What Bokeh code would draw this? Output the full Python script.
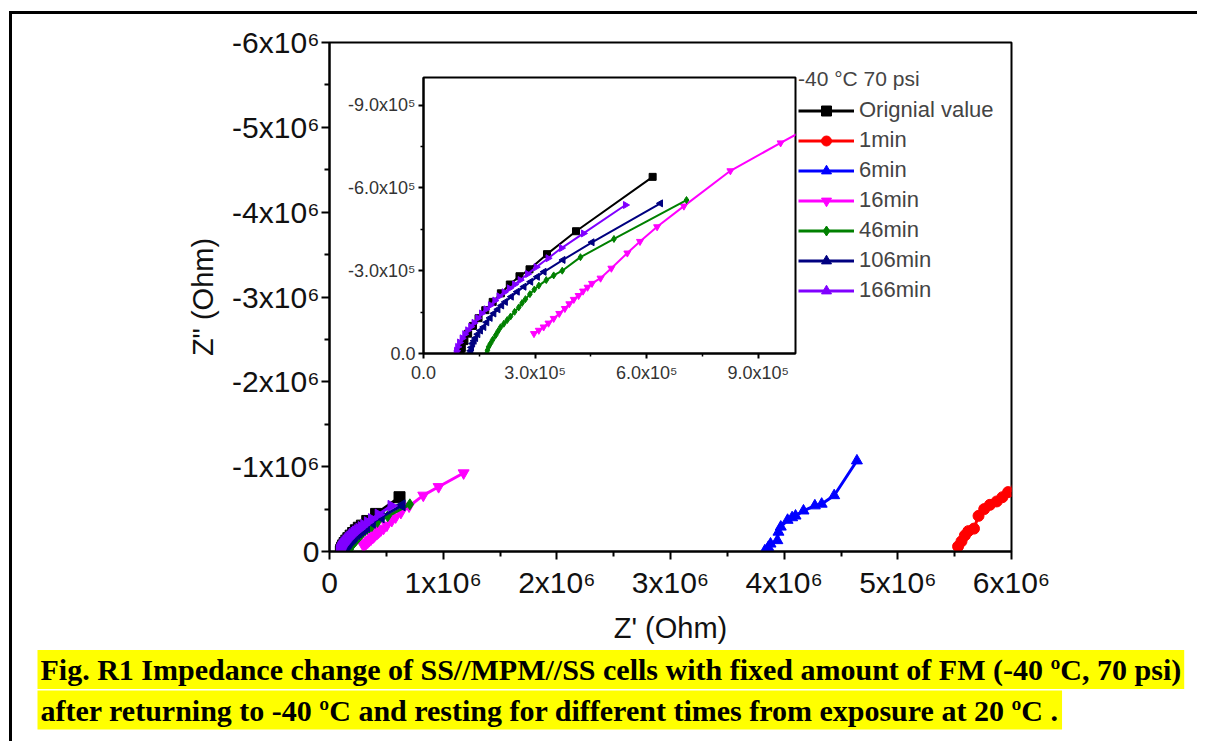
import numpy as np
from bokeh.plotting import figure
from bokeh.models import Range1d, FixedTicker, Title
from bokeh.embed import file_html
from bokeh.resources import INLINE

SCALE = 1e5  # all values below are in units of 1e5 Ohm; y values are -Z''

series_names = ["Orignial value", "1min", "6min", "16min", "46min", "106min", "166min"]
series_colors = ["#000000", "#FF0000", "#0000FF", "#FF00FF", "#008000", "#000080", "#8000FF"]
series_markers = ["square", "circle", "triangle", "inverted_triangle", "diamond", "triangle", "triangle"]
series_angles = [0, 0, 0, 0, 0, np.pi / 2, -np.pi / 2]

orig_x = [1.00, 1.03, 1.10, 1.20, 1.33, 1.48, 1.66, 1.86, 2.08, 2.32, 2.58, 2.85, 3.32, 4.10, 6.16]
orig_y = [0.00, 0.20, 0.45, 0.72, 1.00, 1.28, 1.57, 1.87, 2.18, 2.50, 2.80, 3.05, 3.60, 4.43, 6.40]

m1_x = [55.3, 55.6, 55.9, 56.2, 56.7, 57.1, 57.6, 58.1, 58.7, 59.2, 59.7, 60.5]
m1_y = [0.6, 1.2, 1.9, 2.4, 2.7, 4.2, 5.0, 5.5, 5.9, 6.4, 7.0, 7.6]

m6_x = [38.3, 38.6, 38.8, 39.4, 39.5, 39.7, 40.3, 40.7, 41.0, 41.7, 42.7, 43.3, 44.4, 46.4]
m6_y = [0.1, 0.5, 0.9, 1.3, 2.3, 2.9, 3.7, 4.0, 4.2, 4.8, 5.4, 5.6, 6.6, 10.7]

m16_x = [2.97, 3.10, 3.23, 3.36, 3.50, 3.65, 3.80, 3.92, 4.04, 4.17, 4.29, 4.41, 4.53, 4.76,
         5.05, 5.48, 5.82, 6.28, 7.00, 8.25, 9.60, 11.80]
m16_y = [0.72, 0.84, 0.96, 1.10, 1.27, 1.45, 1.63, 1.80, 1.96, 2.10, 2.26, 2.40, 2.54, 2.73,
         3.09, 3.64, 4.06, 4.59, 5.34, 6.62, 7.63, 9.25]

m46_x = [1.70, 1.72, 1.75, 1.80, 1.86, 1.94, 2.00, 2.07, 2.16, 2.25, 2.34, 2.45, 2.56, 2.65,
         2.74, 2.86, 2.98, 3.10, 3.30, 3.50, 3.73, 4.22, 5.12, 7.07]
m46_y = [0.00, 0.12, 0.24, 0.36, 0.50, 0.66, 0.80, 0.95, 1.08, 1.21, 1.34, 1.51, 1.67, 1.83,
         1.97, 2.15, 2.32, 2.46, 2.66, 2.83, 3.00, 3.49, 4.15, 5.56]

m106_x = [1.26, 1.27, 1.29, 1.32, 1.36, 1.40, 1.46, 1.53, 1.62, 1.70, 1.79, 1.89, 2.00, 2.10,
          2.20, 2.36, 2.52, 2.70, 2.88, 3.06, 3.24, 3.75, 4.53, 6.37]
m106_y = [0.00, 0.10, 0.22, 0.36, 0.46, 0.56, 0.70, 0.83, 0.96, 1.13, 1.29, 1.45, 1.60, 1.74,
          1.87, 2.06, 2.24, 2.42, 2.60, 2.78, 2.96, 3.39, 4.03, 5.44]

m166_x = [0.88, 0.89, 0.92, 0.97, 1.04, 1.11, 1.19, 1.27, 1.36, 1.46, 1.56, 1.68, 1.80, 1.92,
          2.03, 2.17, 2.31, 2.45, 2.60, 2.80, 3.03, 3.35, 3.71, 4.30, 5.43]
m166_y = [0.00, 0.10, 0.24, 0.40, 0.55, 0.70, 0.84, 0.97, 1.11, 1.28, 1.45, 1.60, 1.75, 1.92,
          2.07, 2.22, 2.36, 2.50, 2.66, 2.88, 3.13, 3.45, 3.82, 4.35, 5.38]

series_x = [orig_x, m1_x, m6_x, m16_x, m46_x, m106_x, m166_x]
series_y = [orig_y, m1_y, m6_y, m16_y, m46_y, m106_y, m166_y]

main_x_ticks = [0, 1e6, 2e6, 3e6, 4e6, 5e6, 6e6]
main_x_labels = ["0", "1x10⁶", "2x10⁶", "3x10⁶", "4x10⁶", "5x10⁶", "6x10⁶"]
main_y_ticks = [0, -1e6, -2e6, -3e6, -4e6, -5e6, -6e6]
main_y_labels = ["0", "-1x10⁶", "-2x10⁶", "-3x10⁶", "-4x10⁶", "-5x10⁶", "-6x10⁶"]
inset_x_ticks = [0, 3e5, 6e5, 9e5]
inset_x_labels = ["0.0", "3.0x10⁵", "6.0x10⁵", "9.0x10⁵"]
inset_y_ticks = [0, -3e5, -6e5, -9e5]
inset_y_labels = ["0.0", "-3.0x10⁵", "-6.0x10⁵", "-9.0x10⁵"]

legend_title = "-40 °C 70 psi"
caption_1 = "Fig. R1 Impedance change of SS//MPM//SS cells with fixed amount of FM (-40 ºC, 70 psi)"
caption_2 = "after returning to -40 ºC and resting for different times from exposure at 20 ºC ."

FONT = "Liberation Sans"

# ---------------- main figure ----------------
p = figure(output_backend="svg", toolbar_location=None,
           x_range=Range1d(0, 6e6), y_range=Range1d(0, -6e6),
           min_border_left=317, min_border_right=186, min_border_top=28, min_border_bottom=190,
           frame_width=682, frame_height=509)
p.styles = {"border-top": "3px solid black", "border-left": "3px solid black",
            "margin-left": "9px", "margin-top": "11px"}
p.grid.visible = False
p.outline_line_color = "black"
p.outline_line_width = 2
p.background_fill_color = "white"

for ax, ticks, labels, mticks in [
    (p.xaxis[0], main_x_ticks, main_x_labels, [0.5e6 + i * 1e6 for i in range(6)]),
    (p.yaxis[0], main_y_ticks, main_y_labels, [-0.5e6 - i * 1e6 for i in range(6)]),
]:
    ax.ticker = FixedTicker(ticks=ticks, minor_ticks=mticks)
    ax.major_label_overrides = {t: l for t, l in zip(ticks, labels)}
    ax.axis_line_width = 2
    ax.major_tick_line_width = 2
    ax.minor_tick_line_width = 2
    ax.major_tick_out = 8
    ax.major_tick_in = 0
    ax.minor_tick_out = 5
    ax.minor_tick_in = 0
    ax.major_label_text_font = FONT
    ax.major_label_text_font_size = "30px"
    ax.major_label_text_color = "#111111"
    ax.axis_label_text_font = FONT
    ax.axis_label_text_font_size = "29px"
    ax.axis_label_text_font_style = "normal"
    ax.axis_label_text_color = "#111111"

p.xaxis.axis_label = "Z' (Ohm)"
p.yaxis.axis_label = 'Z" (Ohm)'
p.xaxis.major_label_standoff = 6
p.yaxis.major_label_standoff = 2
p.xaxis.axis_label_standoff = 10
p.yaxis.axis_label_standoff = 10

for name, col, mk, ang, xs, ys in zip(series_names, series_colors, series_markers, series_angles,
                                       series_x, series_y):
    xv = np.array(xs) * SCALE
    yv = -np.array(ys) * SCALE
    p.line(xv, yv, line_color=col, line_width=3, legend_label=name)
    p.scatter(xv, yv, marker=mk, angle=ang, size=11, fill_color=col, line_color=col,
              legend_label=name)

lg = p.legend[0]
lg.title = legend_title
lg.title_text_font = FONT
lg.title_text_font_size = "21px"
lg.title_text_font_style = "normal"
lg.title_standoff = 6
lg.label_text_font = FONT
lg.label_text_font_size = "22px"
lg.location = (469, 248)
lg.margin = 0
lg.padding = 2
lg.spacing = 4
lg.glyph_width = 56
lg.glyph_height = 25
lg.label_height = 25
lg.label_standoff = 5
lg.border_line_color = None
lg.background_fill_alpha = 0

for txt, so in [(caption_1, 3), (caption_2, -4)]:
    p.add_layout(Title(text=txt, align="left", offset=-292,
                       text_font="Liberation Serif", text_font_style="bold",
                       text_font_size="30px", text_color="black",
                       background_fill_color="yellow", standoff=so, padding=3), "below")

# ---------------- inset figure ----------------
ins = figure(output_backend="svg", toolbar_location=None,
             x_range=Range1d(0, 1e6), y_range=Range1d(0, -1e6),
             frame_width=372, frame_height=276,
             min_border_left=90, min_border_right=4, min_border_top=10, min_border_bottom=40)
ins.grid.visible = False
ins.outline_line_color = "black"
ins.outline_line_width = 2
ins.border_fill_alpha = 0
ins.background_fill_color = "white"

for ax, ticks, labels, mticks in [
    (ins.xaxis[0], inset_x_ticks, inset_x_labels, [1.5e5, 4.5e5, 7.5e5]),
    (ins.yaxis[0], inset_y_ticks, inset_y_labels, [-1.5e5, -4.5e5, -7.5e5]),
]:
    ax.ticker = FixedTicker(ticks=ticks, minor_ticks=mticks)
    ax.major_label_overrides = {t: l for t, l in zip(ticks, labels)}
    ax.axis_line_width = 2
    ax.major_tick_line_width = 2
    ax.minor_tick_line_width = 1.5
    ax.major_tick_out = 5
    ax.major_tick_in = 0
    ax.minor_tick_out = 3
    ax.minor_tick_in = 0
    ax.major_label_text_font = FONT
    ax.major_label_text_font_size = "18px"
    ax.major_label_text_color = "#333333"
ins.xaxis.major_label_standoff = 4
ins.yaxis.major_label_standoff = 3

for name, col, mk, ang, xs, ys in zip(series_names, series_colors, series_markers, series_angles,
                                       series_x, series_y):
    xv = np.array(xs) * SCALE
    yv = -np.array(ys) * SCALE
    ins.line(xv, yv, line_color=col, line_width=2)
    ins.scatter(xv, yv, marker=mk, angle=ang, size=7, fill_color=col, line_color=col)

ins.styles = {"position": "absolute", "left": "333px", "top": "67px", "z-index": "2"}

open("out.html", "w").write(file_html([p, ins], INLINE))
